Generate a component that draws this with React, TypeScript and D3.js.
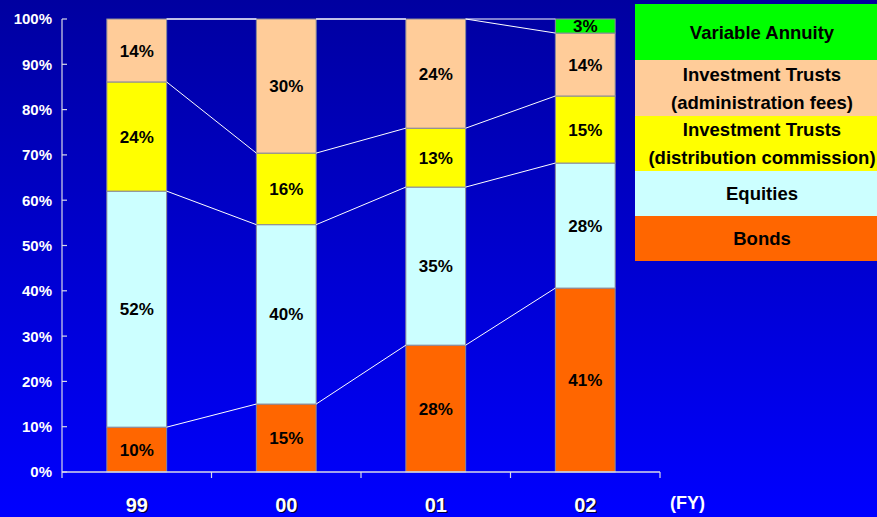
import React, { useEffect, useRef } from "react";
import * as d3 from "d3";

// Fiscal years on the x axis
const years = ["99", "00", "01", "02"];

// Revenue share by product (% of total), bottom to top
const bonds = [9.9, 15.0, 28.0, 40.6];
const equities = [52.1, 39.6, 34.9, 27.6];
const distribution = [24.1, 15.8, 13.0, 14.8];
const administration = [13.9, 29.6, 24.1, 13.9];
const variableAnnuity = [0, 0, 0, 3.1];

const seriesNames = [
  "Bonds",
  "Equities",
  "Investment Trusts (distribution commission)",
  "Investment Trusts (administration fees)",
  "Variable Annuity",
];
const seriesValues = [bonds, equities, distribution, administration, variableAnnuity];
const seriesColors = ["#FF6600", "#CCFFFF", "#FFFF00", "#FFCC99", "#00FF00"];

// Legend rows, top to bottom
const legendLines = [
  ["Variable Annuity"],
  ["Investment Trusts", "(administration fees)"],
  ["Investment Trusts", "(distribution commission)"],
  ["Equities"],
  ["Bonds"],
];
const legendColors = ["#00FF00", "#FFCC99", "#FFFF00", "#CCFFFF", "#FF6600"];

const yTicks = [0, 10, 20, 30, 40, 50, 60, 70, 80, 90, 100];

const W = 877;
const H = 517;

export default function App() {
  const ref = useRef<SVGSVGElement | null>(null);

  useEffect(() => {
    const svg = d3.select(ref.current);
    svg.selectAll("*").remove();

    const font = "'Liberation Sans', Arial, sans-serif";

    const defs = svg.append("defs");
    const grad = defs
      .append("linearGradient")
      .attr("id", "bg")
      .attr("x1", 0)
      .attr("y1", 0)
      .attr("x2", 0)
      .attr("y2", 1);
    grad.append("stop").attr("offset", "0%").attr("stop-color", "#0000A0");
    grad.append("stop").attr("offset", "100%").attr("stop-color", "#0000FF");

    svg.append("rect").attr("width", W).attr("height", H).attr("fill", "url(#bg)");

    const left = 62;
    const right = 660;
    const top = 19;
    const bottom = 472;

    const x = d3.scaleBand<string>().domain(years).range([left, right]).paddingInner(0.6).paddingOuter(0.3);
    const band = d3.scaleBand<string>().domain(years).range([left, right]);
    const y = d3.scaleLinear().domain([0, 100]).range([bottom, top]);

    // stack
    const rows = years.map((yr, i) => {
      const r: any = { year: yr };
      seriesNames.forEach((n, s) => (r[n] = seriesValues[s][i]));
      return r;
    });
    const stacked = d3.stack<any>().keys(seriesNames)(rows);

    // bars
    const g = svg.append("g");
    stacked.forEach((layer, s) => {
      layer.forEach((d, i) => {
        const v = seriesValues[s][i];
        if (v <= 0) return;
        const x0 = x(years[i])!;
        g.append("rect")
          .attr("x", x0)
          .attr("y", y(d[1]))
          .attr("width", x.bandwidth())
          .attr("height", y(d[0]) - y(d[1]))
          .attr("fill", seriesColors[s])
          .attr("stroke", "#8A8A9A")
          .attr("stroke-width", 1);
      });
    });

    // connector lines between bars at each series top
    stacked.forEach((layer) => {
      for (let i = 0; i < years.length - 1; i++) {
        g.append("line")
          .attr("x1", x(years[i])! + x.bandwidth())
          .attr("y1", y(layer[i][1]))
          .attr("x2", x(years[i + 1])!)
          .attr("y2", y(layer[i + 1][1]))
          .attr("stroke", "#FFFFFF")
          .attr("stroke-width", 1);
      }
    });

    // value labels
    stacked.forEach((layer, s) => {
      layer.forEach((d, i) => {
        const v = seriesValues[s][i];
        if (v <= 0) return;
        g.append("text")
          .attr("x", x(years[i])! + x.bandwidth() / 2)
          .attr("y", (y(d[0]) + y(d[1])) / 2)
          .attr("dy", "0.36em")
          .attr("text-anchor", "middle")
          .attr("font-family", font)
          .attr("font-weight", "bold")
          .attr("font-size", 17)
          .attr("fill", "#000")
          .text(d3.format(".0f")(v) + "%");
      });
    });

    // y axis
    const axisColor = "#D8D8E8";
    svg.append("line")
      .attr("x1", left).attr("x2", left)
      .attr("y1", top).attr("y2", bottom)
      .attr("stroke", axisColor).attr("stroke-width", 1.2);
    yTicks.forEach((t) => {
      svg.append("line")
        .attr("x1", left).attr("x2", left + 5)
        .attr("y1", y(t)).attr("y2", y(t))
        .attr("stroke", axisColor).attr("stroke-width", 1.2);
      svg.append("text")
        .attr("x", 52)
        .attr("y", y(t))
        .attr("dy", "0.36em")
        .attr("text-anchor", "end")
        .attr("font-family", font)
        .attr("font-weight", "bold")
        .attr("font-size", 15)
        .attr("fill", "#FFFFFF")
        .text(t + "%");
    });

    // x axis
    svg.append("line")
      .attr("x1", left).attr("x2", right)
      .attr("y1", bottom).attr("y2", bottom)
      .attr("stroke", axisColor).attr("stroke-width", 1.5);
    const bounds = years.map((yr) => band(yr)!).concat([right]);
    bounds.forEach((bx) => {
      svg.append("line")
        .attr("x1", bx).attr("x2", bx)
        .attr("y1", bottom).attr("y2", bottom + 6)
        .attr("stroke", axisColor).attr("stroke-width", 1.2);
    });
    years.forEach((yr) => {
      const cx = x(yr)! + x.bandwidth() / 2;
      svg.append("text")
        .attr("x", cx + 1.5).attr("y", 513)
        .attr("text-anchor", "middle")
        .attr("font-family", font).attr("font-weight", "bold").attr("font-size", 20)
        .attr("fill", "#000033")
        .text(yr);
      svg.append("text")
        .attr("x", cx).attr("y", 511.5)
        .attr("text-anchor", "middle")
        .attr("font-family", font).attr("font-weight", "bold").attr("font-size", 20)
        .attr("fill", "#FFFFFF")
        .text(yr);
    });
    svg.append("text")
      .attr("x", 670).attr("y", 509)
      .attr("font-family", font).attr("font-weight", "bold").attr("font-size", 18)
      .attr("fill", "#FFFFFF")
      .text("(FY)");

    // legend
    const legendX = 635;
    const legendW = 254;
    const rowTops = [4, 60, 116, 171, 216, 261];
    legendLines.forEach((lines, k) => {
      const y0 = rowTops[k];
      const h = rowTops[k + 1] - y0;
      svg.append("rect")
        .attr("x", legendX).attr("y", y0)
        .attr("width", legendW).attr("height", h)
        .attr("fill", legendColors[k]);
      const cx = legendX + legendW / 2;
      const lh = 28;
      const cy = y0 + h / 2;
      lines.forEach((ln, j) => {
        svg.append("text")
          .attr("x", cx)
          .attr("y", cy + (j - (lines.length - 1) / 2) * lh)
          .attr("dy", "0.36em")
          .attr("text-anchor", "middle")
          .attr("font-family", font)
          .attr("font-weight", "bold")
          .attr("font-size", 18.5)
          .attr("fill", "#000")
          .text(ln);
      });
    });
  }, []);

  return (
    <svg
      ref={ref}
      width={W}
      height={H}
      style={{ position: "fixed", left: 0, top: 0, display: "block" }}
    />
  );
}
